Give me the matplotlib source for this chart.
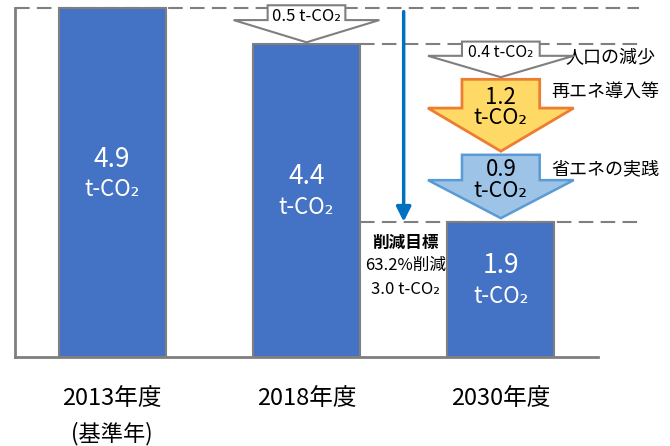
import matplotlib
matplotlib.use("Agg")
import matplotlib.pyplot as plt
from matplotlib.patches import Polygon

plt.rcParams['font.family'] = ['Noto Sans CJK JP', 'DejaVu Sans']

# data
years = ["2013年度", "2018年度", "2030年度"]
year_notes = ["(基準年)", "", ""]
emissions = [4.9, 4.4, 1.9]

# reduction steps (arrows)
step_values = [0.5, 0.4, 1.2, 0.9]
step_names = ["", "人口の減少", "再エネ導入等", "省エネの実践"]
step_pos = [1, 2, 2, 2]

target_title = "削減目標"
target_rate = "63.2%削減"
target_amount = 3.0

# styles
bar_color = "#4472C4"
gray = "#7F7F7F"
arrow_fill = ["white", "white", "#FFD966", "#9DC3E6"]
arrow_edge = [gray, gray, "#ED7D31", "#5B9BD5"]
arrow_lw = [1.5, 1.5, 2.0, 1.8]
# (top, bottom) inset of each arrow so they don't touch
arrow_inset = [(-0.04, 0.02), (-0.03, -0.07), (0.10, 0.09), (-0.04, 0.05)]
# how far below the arrow top the first text line sits
text_drop = [0.16, 0.15, 0.25, 0.21]

fig = plt.figure(figsize=(6.7, 4.46), dpi=100)
ax = fig.add_axes([15 / 670, 89 / 446, 583 / 670, 357 / 446])
ax.set_xlim(-0.5, 2.5)
ax.set_ylim(0, 5.014)

x = list(range(len(years)))
ax.bar(x, emissions, width=0.55, color=bar_color, edgecolor=gray, linewidth=1.5, zorder=3)

for xi, v in zip(x, emissions):
    mid = v / 2
    ax.text(xi, mid + 0.33, f"{v}", color="white", fontsize=19, ha="center", va="center", zorder=4)
    ax.text(xi, mid - 0.1, "t-CO₂", color="white", fontsize=16, ha="center", va="center", zorder=4)

for xi, name, note in zip(x, years, year_notes):
    ax.text(xi, -0.576, name, fontsize=17, ha="center", va="center", clip_on=False)
    if note:
        ax.text(xi, -1.08, note, fontsize=16, ha="center", va="center", clip_on=False)

# dashed guide lines
dash = (0, (7, 3.5))
ax.plot([-0.5, 2.71], [emissions[0], emissions[0]], color=gray, lw=1.5, ls=dash, clip_on=False, zorder=1)
ax.plot([1.275, 2.71], [emissions[1], emissions[1]], color=gray, lw=1.5, ls=dash, clip_on=False, zorder=1)
ax.plot([1.275, 2.71], [emissions[2], emissions[2]], color=gray, lw=1.5, ls=dash, clip_on=False, zorder=1)

# step arrows
top = emissions[0]
for i, val in enumerate(step_values):
    if i == 1:
        top = emissions[1]
    bottom = top - val
    t = top - arrow_inset[i][0]
    b = bottom + arrow_inset[i][1]
    cx = step_pos[i]
    head_y = b + 0.6 * (t - b)
    bw, hw = 0.2, 0.375
    pts = [(cx - bw, t), (cx + bw, t), (cx + bw, head_y), (cx + hw, head_y),
           (cx, b), (cx - hw, head_y), (cx - bw, head_y)]
    ax.add_patch(Polygon(pts, closed=True, facecolor=arrow_fill[i], edgecolor=arrow_edge[i],
                         lw=arrow_lw[i], clip_on=False, zorder=5, joinstyle="miter"))
    ty = t - text_drop[i]
    if i < 2:
        fs = 12 if i == 0 else 11.5
        ax.text(cx, ty, f"{val} t-CO₂", fontsize=fs, ha="center", va="center", zorder=6)
    else:
        ax.text(cx, ty, f"{val}", fontsize=16, ha="center", va="center", zorder=6)
        ax.text(cx, ty - 0.3, "t-CO₂", fontsize=15.5, ha="center", va="center", zorder=6)
    if step_names[i]:
        lx = cx + 0.26 if i > 1 else cx + 0.33
        ly = {1: 4.20, 2: 3.72, 3: 2.63}[i]
        ax.text(lx, ly, step_names[i], fontsize=13, ha="left", va="center", clip_on=False)
    top = bottom

# target arrow
ax.annotate("", xy=(1.5, emissions[2]), xytext=(1.5, 4.85),
            arrowprops=dict(arrowstyle="-|>", color="#0070C0", lw=2.5,
                            mutation_scale=22, shrinkA=0, shrinkB=0), zorder=4)
ax.text(1.51, 1.60, target_title, fontsize=12, fontweight="bold", ha="center", va="center")
ax.text(1.51, 1.28, target_rate, fontsize=12, ha="center", va="center")
ax.text(1.51, 0.955, f"{target_amount} t-CO₂", fontsize=12, ha="center", va="center")

for s in ["top", "right"]:
    ax.spines[s].set_visible(False)
for s in ["left", "bottom"]:
    ax.spines[s].set_color(gray)
    ax.spines[s].set_linewidth(2)
ax.spines["left"].set_bounds(0, emissions[0])
ax.set_xticks([])
ax.set_yticks([])

fig.savefig("out.png", dpi=100)
